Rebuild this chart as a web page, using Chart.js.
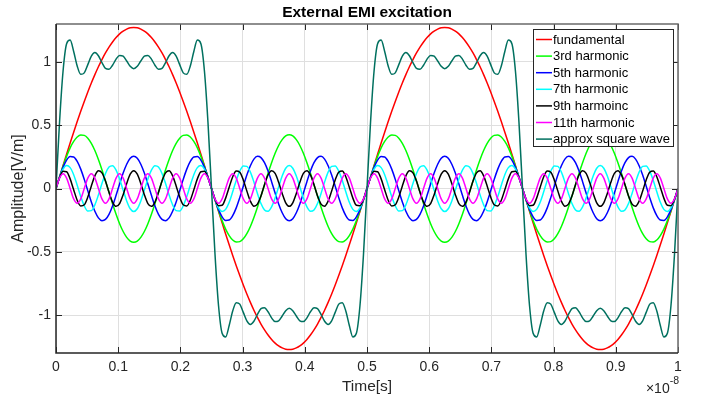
<!DOCTYPE html>
<html>
<head>
<meta charset="utf-8">
<script src="https://cdn.jsdelivr.net/npm/chart.js@4.4.1/dist/chart.umd.min.js"></script>
<style>
  html, body { margin: 0; padding: 0; background: #fff; }
</style>
</head>
<body>
<canvas id="emi" width="706" height="397"></canvas>
<script>
const chartTitle = "External EMI excitation";
const xLabel = "Time[s]";
const yLabel = "Amplitude[V/m]";
const xExponent = "-8";

const xTicks = [0, 0.1, 0.2, 0.3, 0.4, 0.5, 0.6, 0.7, 0.8, 0.9, 1];
const yTicks = [-1, -0.5, 0, 0.5, 1];

const seriesNames = ["fundamental", "3rd harmonic", "5th harmonic", "7th harmonic", "9th harmoinc", "11th harmonic", "approx square wave"];
const seriesColors = ["#ff0000", "#00ff00", "#0000ff", "#00ffff", "#000000", "#ff00ff", "#00705f"];

// sample times, in units of 1e-8 s (177 samples over the window)
const time = Array.from({ length: 177 }, (_, i) => i / 176);

// values at each sample time
const fundamental = [0,
0.091,0.181,0.271,0.359,0.445,0.529,0.61,0.688,0.763,0.834,0.9,0.962,1.019,1.071,1.117,1.158,1.193,1.222,1.244,1.26,1.27,1.273,1.27,1.26,1.244,1.222,1.193,1.158,1.117,1.071,1.019,0.962,0.9,0.834,0.763,0.688,0.61,0.529,0.445,0.359,0.271,0.181,0.091,0,
-0.091,-0.181,-0.271,-0.359,-0.445,-0.529,-0.61,-0.688,-0.763,-0.834,-0.9,-0.962,-1.019,-1.071,-1.117,-1.158,-1.193,-1.222,-1.244,-1.26,-1.27,-1.273,-1.27,-1.26,-1.244,-1.222,-1.193,-1.158,-1.117,-1.071,-1.019,-0.962,-0.9,-0.834,-0.763,-0.688,-0.61,-0.529,-0.445,-0.359,-0.271,-0.181,-0.091,0,
0.091,0.181,0.271,0.359,0.445,0.529,0.61,0.688,0.763,0.834,0.9,0.962,1.019,1.071,1.117,1.158,1.193,1.222,1.244,1.26,1.27,1.273,1.27,1.26,1.244,1.222,1.193,1.158,1.117,1.071,1.019,0.962,0.9,0.834,0.763,0.688,0.61,0.529,0.445,0.359,0.271,0.181,0.091,0,
-0.091,-0.181,-0.271,-0.359,-0.445,-0.529,-0.61,-0.688,-0.763,-0.834,-0.9,-0.962,-1.019,-1.071,-1.117,-1.158,-1.193,-1.222,-1.244,-1.26,-1.27,-1.273,-1.27,-1.26,-1.244,-1.222,-1.193,-1.158,-1.117,-1.071,-1.019,-0.962,-0.9,-0.834,-0.763,-0.688,-0.61,-0.529,-0.445,-0.359,-0.271,-0.181,-0.091,0];

const harmonic3 = [0,
0.09,0.176,0.254,0.321,0.372,0.407,0.423,0.42,0.398,0.357,0.3,0.229,0.148,0.06,-0.03,-0.12,-0.203,-0.278,-0.34,-0.386,-0.415,-0.424,-0.415,-0.386,-0.34,-0.278,-0.203,-0.12,-0.03,0.06,0.148,0.229,0.3,0.357,0.398,0.42,0.423,0.407,0.372,0.321,0.254,0.176,0.09,0,
-0.09,-0.176,-0.254,-0.321,-0.372,-0.407,-0.423,-0.42,-0.398,-0.357,-0.3,-0.229,-0.148,-0.06,0.03,0.12,0.203,0.278,0.34,0.386,0.415,0.424,0.415,0.386,0.34,0.278,0.203,0.12,0.03,-0.06,-0.148,-0.229,-0.3,-0.357,-0.398,-0.42,-0.423,-0.407,-0.372,-0.321,-0.254,-0.176,-0.09,0,
0.09,0.176,0.254,0.321,0.372,0.407,0.423,0.42,0.398,0.357,0.3,0.229,0.148,0.06,-0.03,-0.12,-0.203,-0.278,-0.34,-0.386,-0.415,-0.424,-0.415,-0.386,-0.34,-0.278,-0.203,-0.12,-0.03,0.06,0.148,0.229,0.3,0.357,0.398,0.42,0.423,0.407,0.372,0.321,0.254,0.176,0.09,0,
-0.09,-0.176,-0.254,-0.321,-0.372,-0.407,-0.423,-0.42,-0.398,-0.357,-0.3,-0.229,-0.148,-0.06,0.03,0.12,0.203,0.278,0.34,0.386,0.415,0.424,0.415,0.386,0.34,0.278,0.203,0.12,0.03,-0.06,-0.148,-0.229,-0.3,-0.357,-0.398,-0.42,-0.423,-0.407,-0.372,-0.321,-0.254,-0.176,-0.09,0];

const harmonic5 = [0,
0.089,0.167,0.224,0.252,0.249,0.214,0.153,0.072,-0.018,-0.106,-0.18,-0.232,-0.254,-0.244,-0.204,-0.138,-0.054,0.036,0.122,0.192,0.239,0.255,0.239,0.192,0.122,0.036,-0.054,-0.138,-0.204,-0.244,-0.254,-0.232,-0.18,-0.106,-0.018,0.072,0.153,0.214,0.249,0.252,0.224,0.167,0.089,0,
-0.089,-0.167,-0.224,-0.252,-0.249,-0.214,-0.153,-0.072,0.018,0.106,0.18,0.232,0.254,0.244,0.204,0.138,0.054,-0.036,-0.122,-0.192,-0.239,-0.255,-0.239,-0.192,-0.122,-0.036,0.054,0.138,0.204,0.244,0.254,0.232,0.18,0.106,0.018,-0.072,-0.153,-0.214,-0.249,-0.252,-0.224,-0.167,-0.089,0,
0.089,0.167,0.224,0.252,0.249,0.214,0.153,0.072,-0.018,-0.106,-0.18,-0.232,-0.254,-0.244,-0.204,-0.138,-0.054,0.036,0.122,0.192,0.239,0.255,0.239,0.192,0.122,0.036,-0.054,-0.138,-0.204,-0.244,-0.254,-0.232,-0.18,-0.106,-0.018,0.072,0.153,0.214,0.249,0.252,0.224,0.167,0.089,0,
-0.089,-0.167,-0.224,-0.252,-0.249,-0.214,-0.153,-0.072,0.018,0.106,0.18,0.232,0.254,0.244,0.204,0.138,0.054,-0.036,-0.122,-0.192,-0.239,-0.255,-0.239,-0.192,-0.122,-0.036,0.054,0.138,0.204,0.244,0.254,0.232,0.18,0.106,0.018,-0.072,-0.153,-0.214,-0.249,-0.252,-0.224,-0.167,-0.089,0];

const harmonic7 = [0,
0.087,0.153,0.181,0.165,0.109,0.026,-0.064,-0.137,-0.178,-0.175,-0.129,-0.051,0.039,0.119,0.17,0.18,0.146,0.076,-0.013,-0.098,-0.16,-0.182,-0.16,-0.098,-0.013,0.076,0.146,0.18,0.17,0.119,0.039,-0.051,-0.129,-0.175,-0.178,-0.137,-0.064,0.026,0.109,0.165,0.181,0.153,0.087,0,
-0.087,-0.153,-0.181,-0.165,-0.109,-0.026,0.064,0.137,0.178,0.175,0.129,0.051,-0.039,-0.119,-0.17,-0.18,-0.146,-0.076,0.013,0.098,0.16,0.182,0.16,0.098,0.013,-0.076,-0.146,-0.18,-0.17,-0.119,-0.039,0.051,0.129,0.175,0.178,0.137,0.064,-0.026,-0.109,-0.165,-0.181,-0.153,-0.087,0,
0.087,0.153,0.181,0.165,0.109,0.026,-0.064,-0.137,-0.178,-0.175,-0.129,-0.051,0.039,0.119,0.17,0.18,0.146,0.076,-0.013,-0.098,-0.16,-0.182,-0.16,-0.098,-0.013,0.076,0.146,0.18,0.17,0.119,0.039,-0.051,-0.129,-0.175,-0.178,-0.137,-0.064,0.026,0.109,0.165,0.181,0.153,0.087,0,
-0.087,-0.153,-0.181,-0.165,-0.109,-0.026,0.064,0.137,0.178,0.175,0.129,0.051,-0.039,-0.119,-0.17,-0.18,-0.146,-0.076,0.013,0.098,0.16,0.182,0.16,0.098,0.013,-0.076,-0.146,-0.18,-0.17,-0.119,-0.039,0.051,0.129,0.175,0.178,0.137,0.064,-0.026,-0.109,-0.165,-0.181,-0.153,-0.087,0];

const harmonic9 = [0,
0.085,0.136,0.133,0.076,-0.01,-0.093,-0.138,-0.129,-0.068,0.02,0.1,0.14,0.124,0.059,-0.03,-0.107,-0.141,-0.119,-0.049,0.04,0.113,0.141,0.113,0.04,-0.049,-0.119,-0.141,-0.107,-0.03,0.059,0.124,0.14,0.1,0.02,-0.068,-0.129,-0.138,-0.093,-0.01,0.076,0.133,0.136,0.085,0,
-0.085,-0.136,-0.133,-0.076,0.01,0.093,0.138,0.129,0.068,-0.02,-0.1,-0.14,-0.124,-0.059,0.03,0.107,0.141,0.119,0.049,-0.04,-0.113,-0.141,-0.113,-0.04,0.049,0.119,0.141,0.107,0.03,-0.059,-0.124,-0.14,-0.1,-0.02,0.068,0.129,0.138,0.093,0.01,-0.076,-0.133,-0.136,-0.085,0,
0.085,0.136,0.133,0.076,-0.01,-0.093,-0.138,-0.129,-0.068,0.02,0.1,0.14,0.124,0.059,-0.03,-0.107,-0.141,-0.119,-0.049,0.04,0.113,0.141,0.113,0.04,-0.049,-0.119,-0.141,-0.107,-0.03,0.059,0.124,0.14,0.1,0.02,-0.068,-0.129,-0.138,-0.093,-0.01,0.076,0.133,0.136,0.085,0,
-0.085,-0.136,-0.133,-0.076,0.01,0.093,0.138,0.129,0.068,-0.02,-0.1,-0.14,-0.124,-0.059,0.03,0.107,0.141,0.119,0.049,-0.04,-0.113,-0.141,-0.113,-0.04,0.049,0.119,0.141,0.107,0.03,-0.059,-0.124,-0.14,-0.1,-0.02,0.068,0.129,0.138,0.093,0.01,-0.076,-0.133,-0.136,-0.085,0];

const harmonic11 = [0,
0.082,0.116,0.082,0,-0.082,-0.116,-0.082,0,0.082,0.116,0.082,0,-0.082,-0.116,-0.082,0,0.082,0.116,0.082,0,-0.082,-0.116,-0.082,0,0.082,0.116,0.082,0,-0.082,-0.116,-0.082,0,0.082,0.116,0.082,0,-0.082,-0.116,-0.082,0,0.082,0.116,0.082,0,
-0.082,-0.116,-0.082,0,0.082,0.116,0.082,0,-0.082,-0.116,-0.082,0,0.082,0.116,0.082,0,-0.082,-0.116,-0.082,0,0.082,0.116,0.082,0,-0.082,-0.116,-0.082,0,0.082,0.116,0.082,0,-0.082,-0.116,-0.082,0,0.082,0.116,0.082,0,-0.082,-0.116,-0.082,0,
0.082,0.116,0.082,0,-0.082,-0.116,-0.082,0,0.082,0.116,0.082,0,-0.082,-0.116,-0.082,0,0.082,0.116,0.082,0,-0.082,-0.116,-0.082,0,0.082,0.116,0.082,0,-0.082,-0.116,-0.082,0,0.082,0.116,0.082,0,-0.082,-0.116,-0.082,0,0.082,0.116,0.082,0,
-0.082,-0.116,-0.082,0,0.082,0.116,0.082,0,-0.082,-0.116,-0.082,0,0.082,0.116,0.082,0,-0.082,-0.116,-0.082,0,0.082,0.116,0.082,0,-0.082,-0.116,-0.082,0,0.082,0.116,0.082,0,-0.082,-0.116,-0.082,0,0.082,0.116,0.082,0,-0.082,-0.116,-0.082,0];

const squareWave = [0,
0.524,0.929,1.144,1.173,1.083,0.968,0.902,0.914,0.979,1.046,1.074,1.049,0.995,0.949,0.942,0.974,1.022,1.052,1.046,1.008,0.966,0.947,0.966,1.008,1.046,1.052,1.022,0.974,0.942,0.949,0.995,1.049,1.074,1.046,0.979,0.914,0.902,0.968,1.083,1.173,1.144,0.929,0.524,0,
-0.524,-0.929,-1.144,-1.173,-1.083,-0.968,-0.902,-0.914,-0.979,-1.046,-1.074,-1.049,-0.995,-0.949,-0.942,-0.974,-1.022,-1.052,-1.046,-1.008,-0.966,-0.947,-0.966,-1.008,-1.046,-1.052,-1.022,-0.974,-0.942,-0.949,-0.995,-1.049,-1.074,-1.046,-0.979,-0.914,-0.902,-0.968,-1.083,-1.173,-1.144,-0.929,-0.524,0,
0.524,0.929,1.144,1.173,1.083,0.968,0.902,0.914,0.979,1.046,1.074,1.049,0.995,0.949,0.942,0.974,1.022,1.052,1.046,1.008,0.966,0.947,0.966,1.008,1.046,1.052,1.022,0.974,0.942,0.949,0.995,1.049,1.074,1.046,0.979,0.914,0.902,0.968,1.083,1.173,1.144,0.929,0.524,0,
-0.524,-0.929,-1.144,-1.173,-1.083,-0.968,-0.902,-0.914,-0.979,-1.046,-1.074,-1.049,-0.995,-0.949,-0.942,-0.974,-1.022,-1.052,-1.046,-1.008,-0.966,-0.947,-0.966,-1.008,-1.046,-1.052,-1.022,-0.974,-0.942,-0.949,-0.995,-1.049,-1.074,-1.046,-0.979,-0.914,-0.902,-0.968,-1.083,-1.173,-1.144,-0.929,-0.524,0];

const seriesValues = [fundamental, harmonic3, harmonic5, harmonic7, harmonic9, harmonic11, squareWave];

const FONT = "'Liberation Sans', Arial, Helvetica, sans-serif";
const INK = "#262626";

Chart.defaults.font.family = FONT;
Chart.defaults.color = INK;

// matlab-ish axes box, inward ticks, title, exponent and legend
const matlabAxes = {
  id: "matlabAxes",
  afterDatasetsDraw(chart) {
    const { ctx, chartArea: a, scales: { x, y } } = chart;
    ctx.save();
    ctx.strokeStyle = INK;
    ctx.lineWidth = 1;
    ctx.beginPath();
    xTicks.forEach((v) => {
      const px = Math.round(x.getPixelForValue(v)) + 0.5;
      ctx.moveTo(px, a.bottom); ctx.lineTo(px, a.bottom - 6);
      ctx.moveTo(px, a.top); ctx.lineTo(px, a.top + 6);
    });
    yTicks.forEach((v) => {
      const py = Math.round(y.getPixelForValue(v)) + 0.5;
      ctx.moveTo(a.left, py); ctx.lineTo(a.left + 6, py);
      ctx.moveTo(a.right, py); ctx.lineTo(a.right - 6, py);
    });
    ctx.stroke();

    // top / right edges are lighter in the original
    ctx.strokeStyle = "#6a6a6a";
    ctx.lineWidth = 1.5;
    ctx.beginPath();
    ctx.moveTo(a.left, a.top); ctx.lineTo(a.right, a.top); ctx.lineTo(a.right, a.bottom);
    ctx.stroke();
    ctx.strokeStyle = INK;
    ctx.beginPath();
    ctx.moveTo(a.left, a.top); ctx.lineTo(a.left, a.bottom); ctx.lineTo(a.right, a.bottom);
    ctx.stroke();
    ctx.restore();
  },
  afterDraw(chart) {
    const { ctx, chartArea: a } = chart;
    ctx.save();
    ctx.fillStyle = "#000";
    ctx.font = "bold 15.5px " + FONT;
    ctx.textAlign = "center";
    ctx.textBaseline = "alphabetic";
    ctx.fillText(chartTitle, (a.left + a.right) / 2, 17);

    // x10^-8 exponent under the right end of the x axis
    ctx.fillStyle = INK;
    ctx.textAlign = "right";
    ctx.font = "10.5px " + FONT;
    const expW = ctx.measureText(xExponent).width;
    ctx.fillText(xExponent, a.right + 1, 384);
    ctx.font = "14px " + FONT;
    ctx.fillText("\u00d710", a.right + 1 - expW, 393);

    // legend
    const rowH = 16.6;
    const bw = 140, bh = 117;
    const bx = a.right - 5 - bw, by = a.top + 5;
    ctx.fillStyle = "#fff";
    ctx.fillRect(bx, by, bw, bh);
    ctx.strokeStyle = INK;
    ctx.lineWidth = 1;
    ctx.strokeRect(Math.round(bx) + 0.5, Math.round(by) + 0.5, bw, bh);
    ctx.font = "13px " + FONT;
    ctx.textAlign = "left";
    ctx.textBaseline = "middle";
    chart.data.datasets.forEach((ds, i) => {
      const cy = by + 10.5 + i * rowH;
      ctx.strokeStyle = ds.borderColor;
      ctx.lineWidth = 1.5;
      ctx.beginPath();
      ctx.moveTo(bx + 3, cy); ctx.lineTo(bx + 19, cy);
      ctx.stroke();
      ctx.fillStyle = "#000";
      ctx.fillText(ds.label, bx + 20, cy + 0.5);
    });
    ctx.restore();
  }
};

new Chart(document.getElementById("emi"), {
  type: "line",
  data: {
    labels: time,
    datasets: seriesValues.map((vals, i) => ({
      label: seriesNames[i],
      data: vals,
      borderColor: seriesColors[i],
      backgroundColor: seriesColors[i],
      borderWidth: 1.5,
      pointRadius: 0,
      cubicInterpolationMode: "monotone",
      fill: false,
      order: seriesValues.length - i, // later series on top, like matlab
    })),
  },
  options: {
    responsive: false,
    animation: false,
    devicePixelRatio: 1,
    layout: { padding: { top: 24, right: 28, left: 0, bottom: 0 } },
    plugins: {
      legend: { display: false },
      title: { display: false },
      tooltip: { enabled: false },
    },
    scales: {
      x: {
        type: "linear",
        min: 0,
        max: 1,
        afterBuildTicks: (s) => { s.ticks = xTicks.map((v) => ({ value: v })); },
        afterFit: (s) => { s.height = 44; },
        grid: { color: "#dfdfdf", drawTicks: false, lineWidth: 1 },
        border: { display: false },
        ticks: {
          font: { size: 14 },
          color: INK,
          padding: 6,
          maxRotation: 0,
          autoSkip: false,
          callback: (v) => String(v),
        },
        title: {
          display: true,
          text: xLabel,
          font: { size: 15.5 },
          color: INK,
          padding: { top: 0, bottom: 1 },
        },
      },
      y: {
        min: -1.3,
        max: 1.3,
        afterBuildTicks: (s) => { s.ticks = yTicks.map((v) => ({ value: v })); },
        afterFit: (s) => { s.width = 56; },
        grid: { color: "#dfdfdf", drawTicks: false, lineWidth: 1 },
        border: { display: false },
        ticks: {
          font: { size: 14 },
          color: INK,
          padding: 5,
          callback: (v) => String(v),
        },
        title: {
          display: true,
          text: yLabel,
          font: { size: 16 },
          color: INK,
          padding: { top: 9, bottom: 0 },
        },
      },
    },
  },
  plugins: [matlabAxes],
});
</script>
</body>
</html>
